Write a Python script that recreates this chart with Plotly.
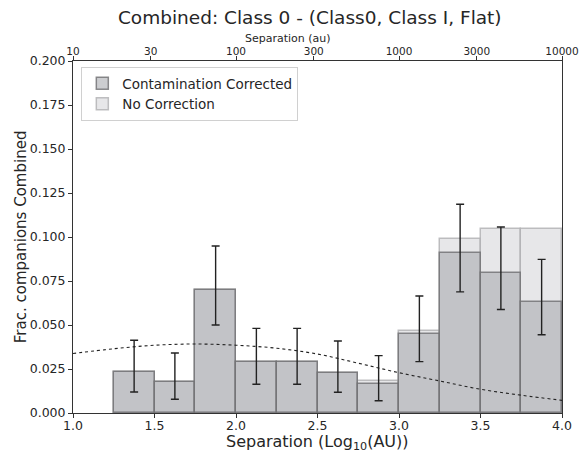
import plotly.graph_objects as go

# Data (log10 separation bins of width 0.25)
bin_centers = [1.375, 1.625, 1.875, 2.125, 2.375, 2.625, 2.875, 3.125, 3.375, 3.625, 3.875]
frac_corrected = [0.0233, 0.0176, 0.0697, 0.0292, 0.0292, 0.0230, 0.0167, 0.0451, 0.0911, 0.0795, 0.0633]
frac_no_correction = [0.0233, 0.0176, 0.0697, 0.0292, 0.0292, 0.0230, 0.0180, 0.0466, 0.0987, 0.1044, 0.1044]
err_upper = [0.0413, 0.0341, 0.0949, 0.0481, 0.0481, 0.0409, 0.0326, 0.0665, 0.1186, 0.1057, 0.0873]
err_lower = [0.0119, 0.0078, 0.0500, 0.0163, 0.0163, 0.0118, 0.0070, 0.0292, 0.0688, 0.0588, 0.0445]

# Dotted reference curve
curve_x = [1.0, 1.25, 1.5, 1.75, 2.0, 2.25, 2.5, 2.75, 3.0, 3.25, 3.5, 3.75, 4.0]
curve_y = [0.0338, 0.0365, 0.0385, 0.0392, 0.0385, 0.0368, 0.0335, 0.0283, 0.0229, 0.0182, 0.0135, 0.0101, 0.0072]

top_tickvals = [10, 30, 100, 300, 1000, 3000, 10000]
top_ticktext = ["10", "30", "100", "300", "1000", "3000", "10000"]
y_ticks = [0, 0.025, 0.05, 0.075, 0.1, 0.125, 0.15, 0.175, 0.2]

FONT = "DejaVu Sans"
TXT = "#262626"

err_plus = [u - v for u, v in zip(err_upper, frac_corrected)]
err_minus = [v - l for v, l in zip(frac_corrected, err_lower)]

fig = go.Figure()

fig.add_trace(go.Bar(
    x=bin_centers, y=frac_no_correction, width=0.25,
    name="No Correction", legendrank=2,
    marker=dict(color="rgba(215,215,218,0.6)", line=dict(color="rgba(175,175,178,0.8)", width=1.5)),
))
fig.add_trace(go.Bar(
    x=bin_centers, y=frac_corrected, width=0.25,
    name="Contamination Corrected", legendrank=1,
    marker=dict(color="rgba(170,171,176,0.6)", line=dict(color="rgba(110,110,112,0.8)", width=1.5)),
))
fig.add_trace(go.Scatter(
    x=bin_centers, y=frac_corrected, mode="markers",
    marker=dict(size=1, color="rgba(0,0,0,0)"),
    error_y=dict(type="data", symmetric=False, array=err_plus, arrayminus=err_minus,
                 color="#222222", thickness=1.4, width=4),
    showlegend=False, hoverinfo="skip",
))
fig.add_trace(go.Scatter(
    x=curve_x, y=curve_y, mode="lines",
    line=dict(color="#222222", width=1.1, dash="dot", shape="spline"),
    showlegend=False, hoverinfo="skip",
))
# invisible trace on top (au) axis
fig.add_trace(go.Scatter(
    x=[10, 10000], y=[0, 0], xaxis="x2", mode="markers",
    marker=dict(opacity=0), showlegend=False, hoverinfo="skip",
))

fig.update_layout(
    width=579, height=452,
    margin=dict(l=73, r=17, t=61, b=39),
    paper_bgcolor="white", plot_bgcolor="white",
    barmode="overlay", bargap=0,
    font=dict(family=FONT, color=TXT, size=12),
    title=dict(text="Combined: Class 0 - (Class0, Class I, Flat)", x=0.535, xanchor="center",
               y=0.962, yanchor="middle", font=dict(size=18.5, color=TXT)),
    xaxis=dict(range=[1.0, 4.0], tickvals=[1.0, 1.5, 2.0, 2.5, 3.0, 3.5, 4.0],
               ticktext=["1.0", "1.5", "2.0", "2.5", "3.0", "3.5", "4.0"],
               ticks="outside", ticklen=4, tickcolor="#333", showline=True, linecolor="#333",
               linewidth=1, showgrid=False, zeroline=False, automargin=False,
               tickfont=dict(size=12.5), ticklabelstandoff=-3),
    xaxis2=dict(type="log", range=[1, 4], overlaying="x", side="top", anchor="y",
                tickvals=top_tickvals, ticktext=top_ticktext, ticks="outside", ticklen=4,
                tickcolor="#333", showline=True, linecolor="#333", linewidth=1,
                showgrid=False, zeroline=False, automargin=False, tickfont=dict(size=10.5),
                ticklabelstandoff=-3),
    yaxis=dict(range=[0, 0.2], tickvals=y_ticks, tickformat=".3f", ticks="outside", ticklen=4,
               tickcolor="#333", showline=True, linecolor="#333", linewidth=1, mirror=True,
               showgrid=False, zeroline=False, automargin=False, tickfont=dict(size=12.5)),
    legend=dict(x=0.017, y=0.983, xanchor="left", yanchor="top", bgcolor="white",
                bordercolor="#d0d0d0", borderwidth=1, font=dict(size=13.5, color=TXT),
                itemwidth=30, tracegroupgap=0),
    annotations=[
        dict(text="Separation (Log<sub>10</sub>(AU))", xref="paper", yref="paper",
             x=0.5, y=-0.084, xanchor="center", yanchor="middle", showarrow=False,
             font=dict(size=16, color=TXT)),
        dict(text="Separation (au)", xref="paper", yref="paper",
             x=0.44, y=1.065, xanchor="center", yanchor="middle", showarrow=False,
             font=dict(size=11, color=TXT)),
        dict(text="Frac. companions Combined", xref="paper", yref="paper",
             x=-0.106, y=0.5, xanchor="center", yanchor="middle", showarrow=False,
             textangle=-90, font=dict(size=15, color=TXT)),
    ],
)

fig.write_html("out.html")
